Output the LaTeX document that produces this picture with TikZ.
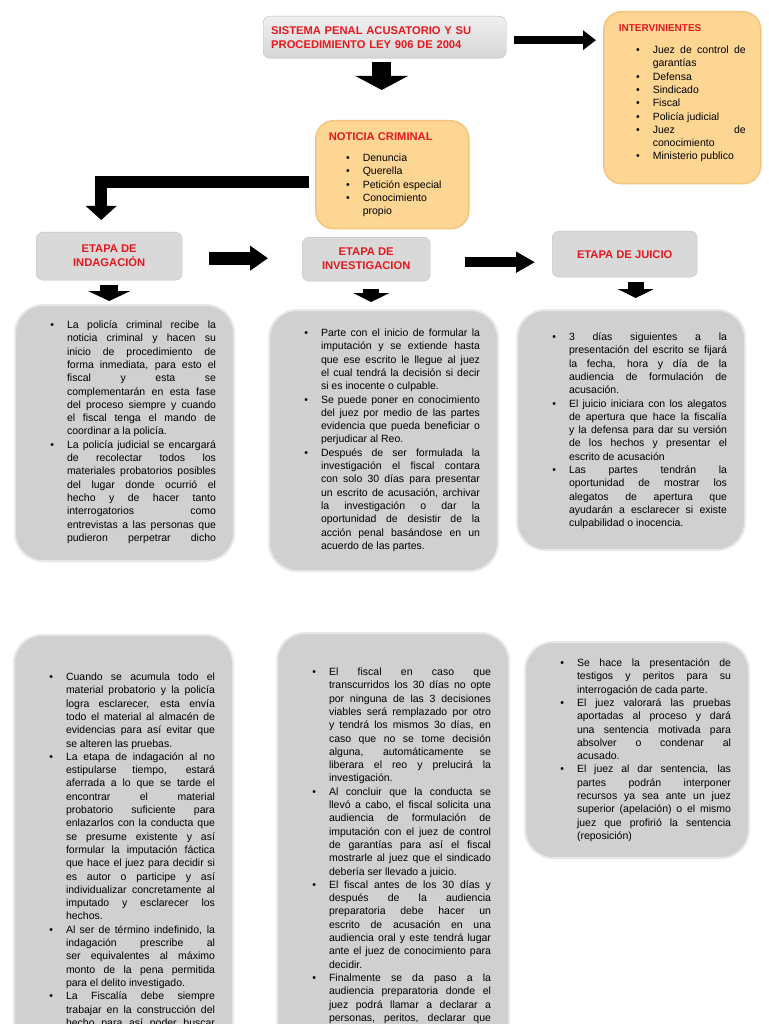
\documentclass[tikz,border=0pt]{standalone}
\usepackage{fontspec}
\usepackage{enumitem}
\setmainfont{Liberation Sans}
\usetikzlibrary{arrows.meta}
\definecolor{rojo}{RGB}{229,24,30}
\definecolor{naranja}{RGB}{253,214,148}
\definecolor{naranjaborde}{RGB}{245,196,124}
\setlist[itemize]{nosep, leftmargin=34pt, labelsep=13pt}
\hyphenpenalty=10000
\exhyphenpenalty=10000
\tolerance=10000
\hbadness=10000

\begin{document}
\begin{tikzpicture}[x=1pt, y=-1pt,
			titulo/.style={font=\fontsize{11.2}{14}\selectfont\bfseries, text=rojo},
			etapa/.style={titulo, draw=gray!50, fill=gray!30, rounded corners=7pt, align=center, anchor=north west, inner sep=0pt},
			cuadro/.style={draw=gray!18, line width=2pt, fill=gray!37, rounded corners=28pt, anchor=north west, inner xsep=18pt, inner ysep=0pt, font=\fontsize{10.5}{13.3}\selectfont},
			nota/.style={draw=naranjaborde, line width=1.5pt, fill=naranja, rounded corners=18pt, anchor=north west, inner ysep=0pt, font=\fontsize{10.5}{13.3}\selectfont},
			flecha/.style={line width=#1, line cap=butt},
		]
	\path[use as bounding box, fill=white] (0,0) rectangle (768,1024);

	\node[etapa, align=left, text width=227pt, inner xsep=8pt, minimum width=243pt, minimum height=42pt, top color=gray!12, bottom color=gray!32] (titulo) at (263,16) {SISTEMA PENAL ACUSATORIO Y SU\\PROCEDIMIENTO LEY 906 DE 2004};

	\node[nota, inner xsep=15pt] (interv) at (603,11) {\parbox[t][172pt][t]{127pt}{\vspace*{11.6pt}
		{\fontsize{10}{12}\selectfont\bfseries\leavevmode\color{rojo}\strut INTERVINIENTES\par}
		\vspace{8.5pt}
		\begin{itemize}
			\item Juez de control de\linebreak garantías
			\item Defensa
			\item Sindicado
			\item Fiscal
			\item Policía judicial
			\item Juez de\linebreak conocimiento
			\item Ministerio publico
		\end{itemize}}};

	\node[nota, inner xsep=13pt] (noticia) at (315,120) {\parbox[t][108pt][t]{127pt}{\vspace*{9.7pt}
		{\fontsize{11.2}{14}\selectfont\bfseries\leavevmode\color{rojo}\strut NOTICIA CRIMINAL\par}
		\vspace{8pt}
		\begin{itemize}
			\item Denuncia
			\item Querella
			\item Petición especial
			\item Conocimiento propio
		\end{itemize}}};

	\node[etapa, minimum width=146pt, minimum height=48pt] (etapa1) at (36,232) {ETAPA DE\\INDAGACIÓN};
	\node[etapa, minimum width=128pt, minimum height=44pt] (etapa2) at (302,237) {ETAPA DE\\INVESTIGACION};
	\node[etapa, minimum width=145pt, minimum height=46pt] (etapa3) at (552,231) {ETAPA DE JUICIO};

	\node[cuadro] (ind1) at (14,304) {\parbox[t][256pt][t]{183pt}{\vspace*{14.2pt}
		\begin{itemize}
			\item\strut La policía criminal recibe la\linebreak
			noticia criminal y hacen su\linebreak
			inicio de procedimiento de\linebreak
			forma inmediata, para esto el\linebreak
			fiscal y esta se\linebreak
			complementarán en esta fase\linebreak
			del proceso siempre y cuando\linebreak
			el fiscal tenga el mando de\linebreak
			coordinar a la policía.
			\item La policía judicial se encargará\linebreak
			de recolectar todos los\linebreak
			materiales probatorios posibles\linebreak
			del lugar donde ocurrió el\linebreak
			hecho y de hacer tanto\linebreak
			interrogatorios como\linebreak
			entrevistas a las personas que\linebreak
			pudieron perpetrar dicho\linebreak
		\end{itemize}}};

	\node[cuadro] (inv1) at (268,309) {\parbox[t][261pt][t]{193pt}{\vspace*{17.2pt}
		\begin{itemize}
			\item\strut Parte con el inicio de formular la\linebreak
			imputación y se extiende hasta\linebreak
			que ese escrito le llegue al juez\linebreak
			el cual tendrá la decisión si decir\linebreak
			si es inocente o culpable.
			\item Se puede poner en conocimiento\linebreak
			del juez por medio de las partes\linebreak
			evidencia que pueda beneficiar o\linebreak
			perjudicar al Reo.
			\item Después de ser formulada la\linebreak
			investigación el fiscal contara\linebreak
			con solo 30 días para presentar\linebreak
			un escrito de acusación, archivar\linebreak
			la investigación o dar la\linebreak
			oportunidad de desistir de la\linebreak
			acción penal basándose en un\linebreak
			acuerdo de las partes.
		\end{itemize}}};

	\node[cuadro] (jui1) at (516,309) {\parbox[t][240pt][t]{192pt}{\vspace*{21.2pt}
		\begin{itemize}
			\item\strut 3 días siguientes a la\linebreak
			presentación del escrito se fijará\linebreak
			la fecha, hora y día de la\linebreak
			audiencia de formulación de\linebreak
			acusación.
			\item El juicio iniciara con los alegatos\linebreak
			de apertura que hace la fiscalía\linebreak
			y la defensa para dar su versión\linebreak
			de los hechos y presentar el\linebreak
			escrito de acusación
			\item Las partes tendrán la\linebreak
			oportunidad de mostrar los\linebreak
			alegatos de apertura que\linebreak
			ayudarán a esclarecer si existe\linebreak
			culpabilidad o inocencia.
		\end{itemize}}};

	\node[cuadro] (ind2) at (13,634) {\parbox[t][420pt][t]{183pt}{\vspace*{36.2pt}
		\begin{itemize}
			\item\strut Cuando se acumula todo el\linebreak
			material probatorio y la policía\linebreak
			logra esclarecer, esta envía\linebreak
			todo el material al almacén de\linebreak
			evidencias para así evitar que\linebreak
			se alteren las pruebas.
			\item La etapa de indagación al no\linebreak
			estipularse tiempo, estará\linebreak
			aferrada a lo que se tarde el\linebreak
			encontrar el material\linebreak
			probatorio suficiente para\linebreak
			enlazarlos con la conducta que\linebreak
			se presume existente y así\linebreak
			formular la imputación fáctica\linebreak
			que hace el juez para decidir si\linebreak
			es autor o participe y así\linebreak
			individualizar concretamente al\linebreak
			imputado y esclarecer los\linebreak
			hechos.
			\item Al ser de término indefinido, la\linebreak
			indagación prescribe al\linebreak
			ser equivalentes al máximo\linebreak
			monto de la pena permitida\linebreak
			para el delito investigado.
			\item La Fiscalía debe siempre\linebreak
			trabajar en la construcción del\linebreak
			hecho para así poder buscar\linebreak
		\end{itemize}}};

	\node[cuadro] (inv2) at (276,632) {\parbox[t][420pt][t]{196pt}{\vspace*{33.2pt}
		\begin{itemize}
			\item\strut El fiscal en caso que\linebreak
			transcurridos los 30 días no opte\linebreak
			por ninguna de las 3 decisiones\linebreak
			viables será remplazado por otro\linebreak
			y tendrá los mismos 3o días, en\linebreak
			caso que no se tome decisión\linebreak
			alguna, automáticamente se\linebreak
			liberara el reo y prelucirá la\linebreak
			investigación.
			\item Al concluir que la conducta se\linebreak
			llevó a cabo, el fiscal solicita una\linebreak
			audiencia de formulación de\linebreak
			imputación con el juez de control\linebreak
			de garantías para así el fiscal\linebreak
			mostrarle al juez que el sindicado\linebreak
			debería ser llevado a juicio.
			\item El fiscal antes de los 30 días y\linebreak
			después de la audiencia\linebreak
			preparatoria debe hacer un\linebreak
			escrito de acusación en una\linebreak
			audiencia oral y este tendrá lugar\linebreak
			ante el juez de conocimiento para\linebreak
			decidir.
			\item Finalmente se da paso a la\linebreak
			audiencia preparatoria donde el\linebreak
			juez podrá llamar a declarar a\linebreak
			personas, peritos, declarar que\linebreak
		\end{itemize}}};

	\node[cuadro] (jui2) at (524,641) {\parbox[t][216pt][t]{188pt}{\vspace*{15.2pt}
		\begin{itemize}
			\item\strut Se hace la presentación de\linebreak
			testigos y peritos para su\linebreak
			interrogación de cada parte.
			\item El juez valorará las pruebas\linebreak
			aportadas al proceso y dará\linebreak
			una sentencia motivada para\linebreak
			absolver o condenar al\linebreak
			acusado.
			\item El juez al dar sentencia, las\linebreak
			partes podrán interponer\linebreak
			recursos ya sea ante un juez\linebreak
			superior (apelación) o el mismo\linebreak
			juez que profirió la sentencia\linebreak
			(reposición)
		\end{itemize}}};

	\draw[flecha=8pt, -{Triangle[width=19pt, length=13pt]}, shorten <=8pt, shorten >=7pt] ([yshift=-3pt]titulo.east) -- ([yshift=-3pt]titulo.east -| interv.west);
	\draw[flecha=19pt, -{Triangle[width=52pt, length=14pt]}, shorten <=4pt, shorten >=30pt] ([xshift=-3pt]titulo.south) -- ([xshift=-3pt]titulo.south |- noticia.north);
	\draw[flecha=12pt, -{Triangle[width=30pt, length=14pt]}, shorten <=6pt, shorten >=12pt] ([yshift=-7pt]noticia.west) -| ([xshift=-8pt]etapa1.north);
	\draw[flecha=13pt, -{Triangle[width=24pt, length=18pt]}, shorten <=27pt, shorten >=34pt] ([yshift=-2pt]etapa1.east) -- ([yshift=-2pt]etapa1.east -| etapa2.west);
	\draw[flecha=10pt, -{Triangle[width=20pt, length=19pt]}, shorten <=35pt, shorten >=17pt] ([yshift=-3pt]etapa2.east) -- ([yshift=-3pt]etapa2.east -| etapa3.west);
	\draw[flecha=18pt, -{Triangle[width=42pt, length=10pt]}, shorten <=5pt, shorten >=3pt] (etapa1.south) -- (etapa1.south |- ind1.north);
	\draw[flecha=16pt, -{Triangle[width=36pt, length=9pt]}, shorten <=8pt, shorten >=7pt] ([xshift=5pt]etapa2.south) -- ([xshift=5pt]etapa2.south |- inv1.north);
	\draw[flecha=16pt, -{Triangle[width=36pt, length=9pt]}, shorten <=5pt, shorten >=11pt] ([xshift=11pt]etapa3.south) -- ([xshift=11pt]etapa3.south |- jui1.north);
\end{tikzpicture}
\end{document}
